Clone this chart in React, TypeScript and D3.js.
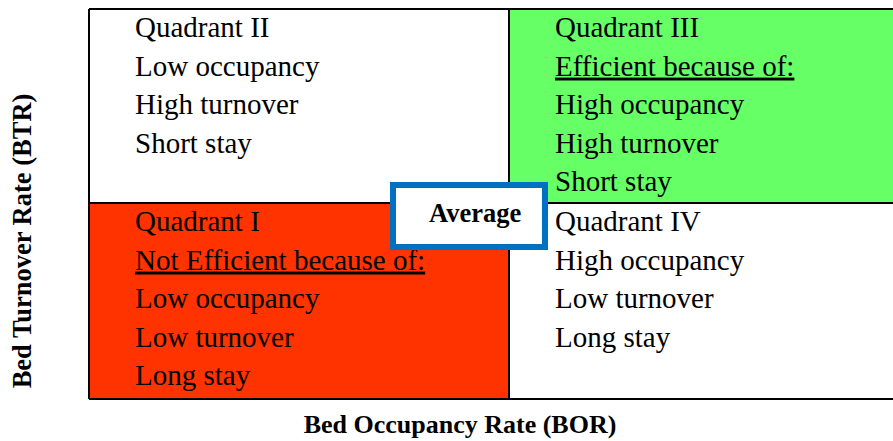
import * as d3 from "d3";
import { useEffect, useRef } from "react";

// axis categories
const occupancyLevels = ["Low", "High"];
const turnoverLevels = ["High", "Low"];

// quadrant contents
const quadrantNames = ["Quadrant II", "Quadrant III", "Quadrant I", "Quadrant IV"];
const quadrantOccupancy = ["Low", "High", "Low", "High"];
const quadrantTurnover = ["High", "High", "Low", "Low"];
const quadrantHeadings = ["", "Efficient because of:", "Not Efficient because of:", ""];
const quadrantLines = [
  ["Low occupancy", "High turnover", "Short stay"],
  ["High occupancy", "High turnover", "Short stay"],
  ["Low occupancy", "Low turnover", "Long stay"],
  ["High occupancy", "Low turnover", "Long stay"],
];
const quadrantFills: Record<string, string> = {
  "Quadrant I": "#ff3300",
  "Quadrant II": "#ffffff",
  "Quadrant III": "#66ff66",
  "Quadrant IV": "#ffffff",
};

const xLabel = "Bed Occupancy Rate (BOR)";
const yLabel = "Bed Turnover Rate (BTR)";
const averageLabel = "Average";

export default function App() {
  const ref = useRef<SVGSVGElement>(null);

  useEffect(() => {
    document.body.style.margin = "0";
    const width = 893;
    const height = 441;
    const margin = { top: 9, right: 0, bottom: 42, left: 89 };
    const split = { x: 509, y: 203 };

    const svg = d3.select(ref.current);
    svg.selectAll("*").remove();

    // occupancy: low | high, boundary at split.x
    const xScale = d3
      .scaleOrdinal<string, [number, number]>()
      .domain(occupancyLevels)
      .range([
        [margin.left, split.x],
        [split.x, width - margin.right],
      ]);
    const yScale = d3
      .scaleOrdinal<string, [number, number]>()
      .domain(turnoverLevels)
      .range([
        [margin.top, split.y],
        [split.y, height - margin.bottom],
      ]);

    const font = "'Liberation Serif', 'Times New Roman', serif";
    const lineGap = 38.6;

    const quads = quadrantNames.map((name, i) => ({
      name,
      x: xScale(quadrantOccupancy[i]),
      y: yScale(quadrantTurnover[i]),
      heading: quadrantHeadings[i],
      lines: quadrantLines[i],
    }));

    const g = svg.append("g");

    g.selectAll("rect.quad")
      .data(quads)
      .join("rect")
      .attr("class", "quad")
      .attr("x", (d) => d.x[0])
      .attr("y", (d) => d.y[0])
      .attr("width", (d) => d.x[1] - d.x[0])
      .attr("height", (d) => d.y[1] - d.y[0])
      .attr("fill", (d) => quadrantFills[d.name]);

    // quadrant texts
    quads.forEach((q) => {
      const rows = [q.name, ...(q.heading ? [q.heading] : []), ...q.lines];
      g.append("g")
        .selectAll("text")
        .data(rows)
        .join("text")
        .attr("x", q.x[0] + 46)
        .attr("y", (d, i) => q.y[0] + 28 + i * lineGap)
        .attr("text-decoration", (d) => (d === q.heading ? "underline" : null))
        .style("font-family", font)
        .style("font-size", "29px")
        .attr("fill", "#000")
        .text((d) => d);
    });

    // frame lines (right edge runs off the picture)
    const x0 = margin.left;
    const x1 = width - margin.right;
    const y0 = margin.top;
    const y1 = height - margin.bottom;
    const lines = [
      [x0, y0, x1, y0],
      [x0, y1, x1, y1],
      [x0, y0, x0, y1],
      [split.x, y0, split.x, y1],
      [x0, split.y, x1, split.y],
    ];
    g.append("g")
      .selectAll("line")
      .data(lines)
      .join("line")
      .attr("x1", (d) => d[0])
      .attr("y1", (d) => d[1])
      .attr("x2", (d) => d[2])
      .attr("y2", (d) => d[3])
      .attr("stroke", "#000")
      .attr("stroke-width", 2);

    // average box
    g.append("rect")
      .attr("x", 393)
      .attr("y", 185)
      .attr("width", 152)
      .attr("height", 62)
      .attr("fill", "#fff")
      .attr("stroke", "#0070c0")
      .attr("stroke-width", 6);
    g.append("text")
      .attr("x", 429)
      .attr("y", 222)
      .style("font-family", font)
      .style("font-size", "26.5px")
      .style("font-weight", "bold")
      .text(averageLabel);

    // axis titles
    svg
      .append("text")
      .attr("x", (x0 + x1) / 2 - 31)
      .attr("y", 433)
      .attr("text-anchor", "middle")
      .style("font-family", font)
      .style("font-size", "26px")
      .style("font-weight", "bold")
      .text(xLabel);
    svg
      .append("text")
      .attr("transform", `translate(31, ${(y0 + y1) / 2 + 37}) rotate(-90)`)
      .attr("text-anchor", "middle")
      .style("font-family", font)
      .style("font-size", "26.5px")
      .style("font-weight", "bold")
      .text(yLabel);
  }, []);

  return <svg ref={ref} width={893} height={441} style={{ display: "block" }} />;
}
